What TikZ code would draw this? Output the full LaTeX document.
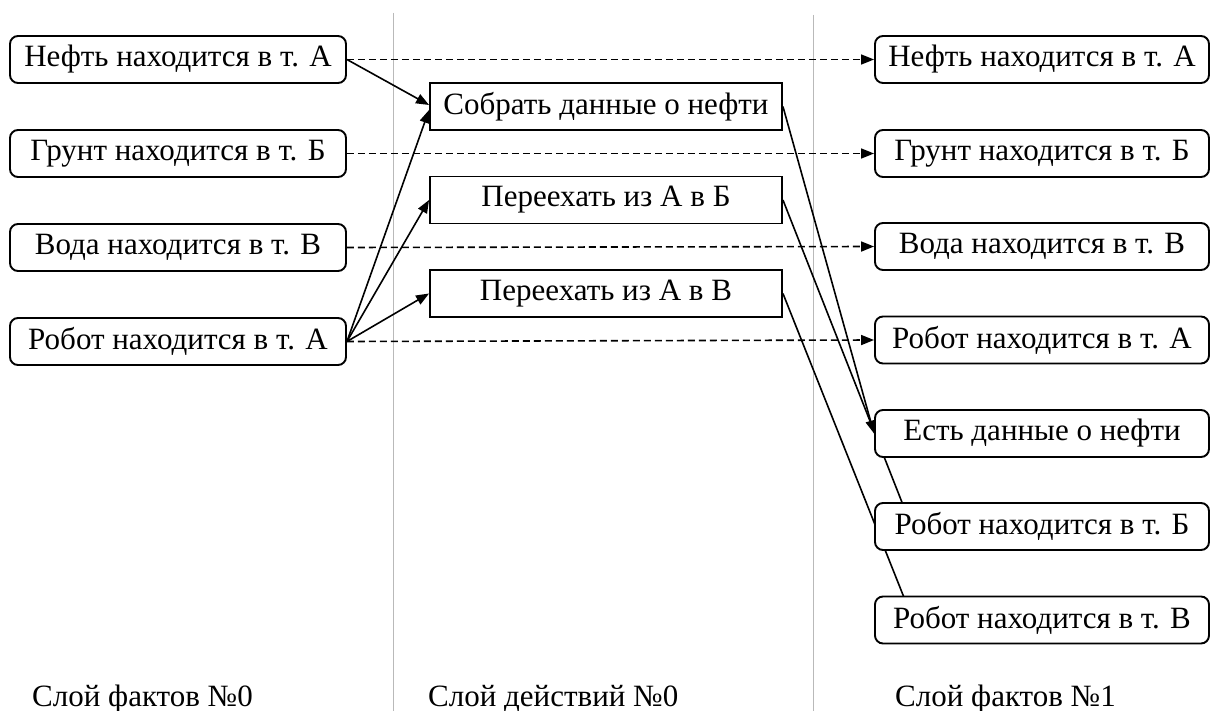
\documentclass[tikz,border=0pt]{standalone}
\usepackage{fontspec}
\setmainfont{Liberation Serif}
\newfontfamily\tnr{Liberation Serif}
\usetikzlibrary{arrows.meta,calc}
\pgfdeclarelayer{back}
\pgfsetlayers{back,main}
\begin{document}
\begin{tikzpicture}[x=1pt,y=-1pt,
  every node/.style={font=\tnr\fontsize{31}{36}\selectfont, inner sep=0pt},
  fact/.style={draw, line width=1.9pt, rounded corners=8pt, fill=white, minimum height=47pt},
  lfact/.style={fact, minimum width=336pt},
  rfact/.style={fact, minimum width=334pt},
  act/.style={draw, line width=1.9pt, fill=white, minimum width=352pt, minimum height=47pt},
  conn/.style={line width=1.6pt},
  tip/.style={-{Triangle[length=13pt,width=10pt]}},
  dashconn/.style={conn, tip, dash pattern=on 7pt off 4pt},
  layerline/.style={line width=0.9pt, draw={rgb,255:red,185;green,185;blue,185}},
  caption/.style={anchor=base west}
]
\useasboundingbox (0,0) rectangle (1210,711);
\begin{pgfonlayer}{back}
  \fill[white] (0,0) rectangle (1210,711);
  \draw[layerline] (393,13) -- (393,711);
  \draw[layerline] (813,15) -- (813,711);
\end{pgfonlayer}

% left layer
\node[lfact] (l1) at (178,59.5) {Нефть находится в т. А};
\node[lfact] (l2) at (178,153.5) {Грунт находится в т. Б};
\node[lfact] (l3) at (178,247.5) {Вода находится в т. В};
\node[lfact] (l4) at (178,341.5) {Робот находится в т. А};

% actions
\node[act] (a1) at (606,106.5) {Собрать данные о нефти};
\node[act] (a2) at (606,200) {Переехать из А в Б};
\node[act] (a3) at (606,293.5) {Переехать из А в В};

% right layer
\node[rfact] (r1) at (1042,59.5) {Нефть находится в т. А};
\node[rfact] (r2) at (1042,153.5) {Грунт находится в т. Б};
\node[rfact] (r3) at (1042,246.5) {Вода находится в т. В};
\node[rfact] (r4) at (1042,340) {Робот находится в т. А};
\node[rfact] (r5) at (1042,433.5) {Есть данные о нефти};
\node[rfact] (r6) at (1042,526.5) {Робот находится в т. Б};
\node[rfact] (r7) at (1042,620) {Робот находится в т. В};

\coordinate (e6) at (905,510);
\coordinate (e7) at (907,605);

% captions
\node[caption] (c1) at (32,706) {Слой фактов №0};
\node[caption] (c2) at (428,706) {Слой действий №0};
\node[caption] (c3) at (895,706) {Слой фактов №1};

\begin{pgfonlayer}{back}
  % persistence (dashed)
  \draw[dashconn] (l1.east) -- (r1.west);
  \draw[dashconn] (l2.east) -- (r2.west);
  \draw[dashconn] (l3.east) -- (r3.west);
  \draw[dashconn] (l4.east) -- (r4.west);
  % preconditions
  \draw[conn,tip] (l1.east) -- ($(a1.west)+(0,-1.5)$);
  \draw[conn,tip] (l4.east) -- ($(a1.west)+(0,3.5)$);
  \draw[conn,tip] (l4.east) -- (a2.west);
  \draw[conn,tip] (l4.east) -- (a3.west);
  % effects
  \draw[conn,tip] (a1.east) -- (r5.west);
  \draw[conn] (a2.east) -- (e6);
  \draw[conn] (a3.east) -- (e7);
\end{pgfonlayer}
\end{tikzpicture}
\end{document}
